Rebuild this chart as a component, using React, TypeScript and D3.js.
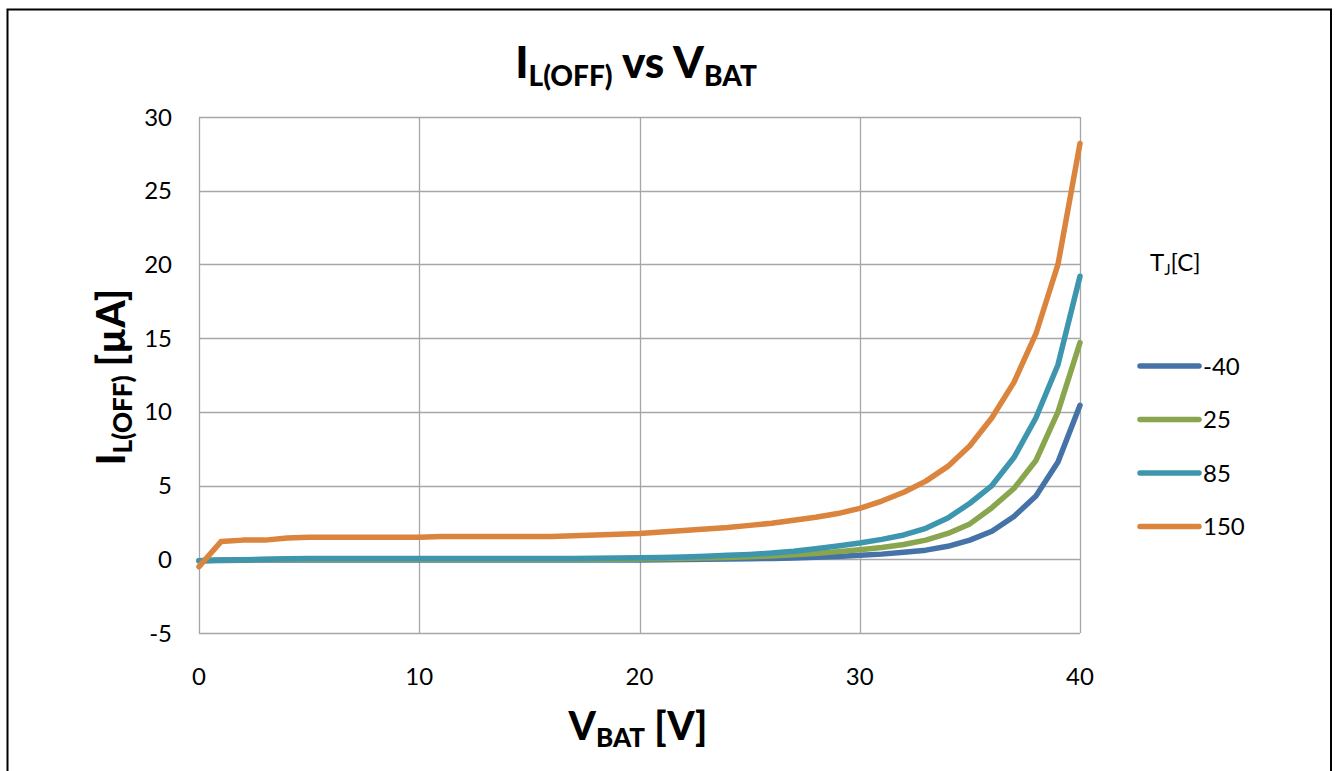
import React from "react";
import * as d3 from "d3";

const voltages = d3.range(0, 41);
const seriesNames = ["-40", "25", "85", "150"];
const seriesColors = ["#4572A7", "#89A54E", "#3D96AE", "#DB843D"];

const vm40 = [-0.1, -0.08, -0.06, -0.05, -0.05, -0.05, -0.05, -0.05, -0.05, -0.05, -0.05, -0.05, -0.05, -0.05, -0.05, -0.05, -0.05, -0.05, -0.05, -0.05, -0.05, -0.03, -0.02, 0, 0.02, 0.04, 0.06, 0.09, 0.13, 0.19, 0.27, 0.35, 0.47, 0.62, 0.88, 1.3, 1.9, 2.9, 4.3, 6.6, 10.45];
const v25 = [-0.1, -0.05, -0.03, -0.02, 0, 0, 0, 0, 0, 0, 0, 0, 0, 0, 0, 0, 0, 0, 0, 0.01, 0.02, 0.03, 0.05, 0.08, 0.12, 0.17, 0.23, 0.3, 0.4, 0.52, 0.65, 0.8, 1.0, 1.3, 1.75, 2.4, 3.5, 4.8, 6.7, 10.0, 14.7];
const v85 = [-0.1, -0.05, -0.03, 0, 0.03, 0.05, 0.05, 0.05, 0.05, 0.05, 0.05, 0.05, 0.05, 0.05, 0.05, 0.05, 0.05, 0.05, 0.07, 0.08, 0.1, 0.12, 0.15, 0.2, 0.27, 0.33, 0.42, 0.55, 0.72, 0.9, 1.1, 1.35, 1.65, 2.1, 2.8, 3.8, 5.0, 6.9, 9.6, 13.2, 19.2];
const v150 = [-0.5, 1.2, 1.3, 1.3, 1.45, 1.5, 1.5, 1.5, 1.5, 1.5, 1.5, 1.55, 1.55, 1.55, 1.55, 1.55, 1.55, 1.6, 1.65, 1.7, 1.75, 1.85, 1.95, 2.05, 2.15, 2.3, 2.45, 2.65, 2.85, 3.1, 3.45, 3.95, 4.55, 5.3, 6.3, 7.7, 9.6, 12.0, 15.3, 20.0, 28.2];
const seriesValues = [vm40, v25, v85, v150];

const xTicks = [0, 10, 20, 30, 40];
const yTicks = [-5, 0, 5, 10, 15, 20, 25, 30];

const FONT = "Lato, 'Open Sans', sans-serif";

export default function App() {
  const W = 1337, H = 771;
  const x = d3.scaleLinear().domain([0, 40]).range([199, 1080]);
  const y = d3.scaleLinear().domain([-5, 30]).range([633, 117]);
  const line = d3.line<number>().x((_, i) => x(voltages[i])).y((d) => y(d));

  return (
    <svg width={W} height={H} style={{ position: "absolute", left: 0, top: 0, background: "#fff" }}>
      <rect x={7.5} y={9.5} width={1323.5} height={800} fill="#fff" stroke="#000" strokeWidth={2} />
      {/* grid */}
      {yTicks.map((t) => (
        <line key={"gy" + t} x1={x(0)} x2={x(40)} y1={Math.round(y(t)) + 0.5} y2={Math.round(y(t)) + 0.5} stroke="#a6a6a6" strokeWidth={1.3} />
      ))}
      {xTicks.map((t) => (
        <line key={"gx" + t} y1={y(30)} y2={y(-5)} x1={Math.round(x(t)) + 0.5} x2={Math.round(x(t)) + 0.5} stroke="#a6a6a6" strokeWidth={1.3} />
      ))}
      {/* tick labels */}
      {yTicks.map((t) => (
        <text key={"ty" + t} x={172} y={y(t)} dy="0.36em" textAnchor="end" fontFamily={FONT} fontSize={24} fill="#000">{t}</text>
      ))}
      {xTicks.map((t) => (
        <text key={"tx" + t} x={x(t)} y={676} dy="0.36em" textAnchor="middle" fontFamily={FONT} fontSize={24} fill="#000">{t}</text>
      ))}
      {/* series */}
      {seriesValues.map((vals, i) => (
        <path key={"s" + i} d={line(vals) || ""} fill="none" stroke={seriesColors[i]} strokeWidth={5.5} strokeLinejoin="round" strokeLinecap="round" />
      ))}
      {/* title */}
      <text x={636} y={78} textAnchor="middle" fontFamily={FONT} fontWeight="900" fontSize={44} fill="#000">
        <tspan>I</tspan>
        <tspan fontSize={28} dy={8}>L(OFF)</tspan>
        <tspan dy={-8}> vs V</tspan>
        <tspan fontSize={28} dy={8}>BAT</tspan>
      </text>
      {/* x axis title */}
      <text x={638} y={740} textAnchor="middle" fontFamily={FONT} fontWeight="900" fontSize={39} fill="#000">
        <tspan>V</tspan>
        <tspan fontSize={26} dy={7}>BAT</tspan>
        <tspan dy={-7}> [V]</tspan>
      </text>
      {/* y axis title */}
      <text transform={`translate(125,377) rotate(-90)`} textAnchor="middle" fontFamily={FONT} fontWeight="900" fontSize={39} fill="#000">
        <tspan>I</tspan>
        <tspan fontSize={26} dy={7}>L(OFF)</tspan>
        <tspan dy={-7}> [µA]</tspan>
      </text>
      {/* legend */}
      <text x={1150} y={271} fontFamily={FONT} fontSize={24} fill="#000">
        <tspan>T</tspan>
        <tspan fontSize={15} dy={4}>J</tspan>
        <tspan dy={-4}>[C]</tspan>
      </text>
      {seriesNames.map((n, i) => {
        const ly = 366 + i * 53.5;
        return (
          <g key={"l" + i}>
            <line x1={1140} x2={1199} y1={ly} y2={ly} stroke={seriesColors[i]} strokeWidth={5.5} strokeLinecap="round" />
            <text x={1203} y={ly} dy="0.36em" fontFamily={FONT} fontSize={24} fill="#000">{n}</text>
          </g>
        );
      })}
    </svg>
  );
}
